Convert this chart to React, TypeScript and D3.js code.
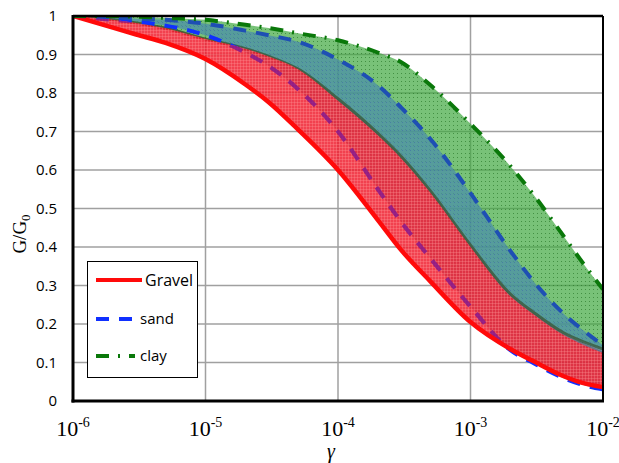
import { useEffect, useRef } from "react";
import * as d3 from "d3";

const strain = [1e-6, 2e-6, 3e-6, 5e-6, 1e-5, 2e-5, 3e-5, 5e-5, 1e-4, 2e-4, 3e-4, 5e-4, 1e-3, 2e-3, 3e-3, 5e-3, 7e-3, 1e-2];

// G/G0 bounds for each soil type
const gravelUpper = [1.0, 0.99, 0.982, 0.968, 0.94, 0.915, 0.895, 0.862, 0.78, 0.69, 0.63, 0.54, 0.4, 0.272, 0.225, 0.172, 0.147, 0.125];
const gravelLower = [1.0, 0.97, 0.952, 0.93, 0.888, 0.822, 0.776, 0.705, 0.6, 0.47, 0.392, 0.31, 0.205, 0.135, 0.103, 0.065, 0.047, 0.036];
const sandUpper = [1.0, 0.997, 0.993, 0.99, 0.98, 0.962, 0.95, 0.933, 0.887, 0.82, 0.762, 0.68, 0.54, 0.39, 0.31, 0.228, 0.185, 0.145];
const sandLower = [1.0, 0.99, 0.985, 0.975, 0.95, 0.905, 0.87, 0.81, 0.7, 0.55, 0.465, 0.37, 0.245, 0.132, 0.098, 0.06, 0.042, 0.03];
const clayUpper = [1.0, 1.0, 0.998, 0.995, 0.99, 0.977, 0.969, 0.955, 0.937, 0.905, 0.88, 0.82, 0.72, 0.61, 0.535, 0.43, 0.36, 0.29];
const clayLower = [1.0, 0.99, 0.982, 0.968, 0.94, 0.915, 0.895, 0.862, 0.785, 0.695, 0.635, 0.545, 0.405, 0.278, 0.23, 0.178, 0.155, 0.135];

// Axis ticks
const xTicks = [1e-6, 1e-5, 1e-4, 1e-3, 1e-2];
const xTickExponents = ["-6", "-5", "-4", "-3", "-2"];
const yTicks = [0, 0.1, 0.2, 0.3, 0.4, 0.5, 0.6, 0.7, 0.8, 0.9, 1];
const yTickLabels = ["0", "0.1", "0.2", "0.3", "0.4", "0.5", "0.6", "0.7", "0.8", "0.9", "1"];

// Legend entries
const legendNames = ["Gravel", "sand", "clay"];

const width = 619;
const height = 463;
const margin = { top: 16, right: 16, bottom: 62, left: 73 };

const sans = "'Open Sans', 'Liberation Sans', sans-serif";
const serif = "'Liberation Serif', 'Times New Roman', serif";

const dashSand = "13,10";
const dashClay = "13,9,2,9";

const drawChart = (node: SVGSVGElement) => {
    const svg = d3.select(node);
    svg.selectAll("*").remove();

    const x = d3.scaleLog().domain([1e-6, 1e-2]).range([margin.left, width - margin.right]);
    const y = d3.scaleLinear().domain([0, 1]).range([height - margin.bottom, margin.top]);

    const idx = strain.map((_, i) => i);

    const line = (vals: number[]) =>
        d3.line<number>()
            .x(i => x(strain[i]))
            .y(i => y(vals[i]))
            .curve(d3.curveMonotoneX)(idx);

    const band = (lo: number[], hi: number[]) =>
        d3.area<number>()
            .x(i => x(strain[i]))
            .y0(i => y(lo[i]))
            .y1(i => y(hi[i]))
            .curve(d3.curveMonotoneX)(idx);

    // patterns for the shaded bands
    const defs = svg.append("defs");

    const green = defs.append("pattern").attr("id", "fill-clay")
        .attr("width", 4).attr("height", 4).attr("patternUnits", "userSpaceOnUse");
    green.append("rect").attr("width", 4).attr("height", 4).attr("fill", "#3fa83f").attr("fill-opacity", 0.7);
    green.append("rect").attr("x", 1).attr("y", 1).attr("width", 1).attr("height", 1).attr("fill", "#1f6f1f").attr("fill-opacity", 0.6);

    const blue = defs.append("pattern").attr("id", "fill-sand")
        .attr("width", 4).attr("height", 4).attr("patternUnits", "userSpaceOnUse");
    blue.append("rect").attr("width", 4).attr("height", 4).attr("fill", "#4a8fa8").attr("fill-opacity", 0.75);
    blue.append("rect").attr("x", 2).attr("y", 2).attr("width", 1).attr("height", 1).attr("fill", "#3a64a8").attr("fill-opacity", 0.5);

    const red = defs.append("pattern").attr("id", "fill-gravel")
        .attr("width", 3).attr("height", 3).attr("patternUnits", "userSpaceOnUse");
    red.append("rect").attr("width", 3).attr("height", 3).attr("fill", "#f02030").attr("fill-opacity", 0.85);
    red.append("rect").attr("width", 3).attr("height", 1).attr("fill", "#ff9a9a").attr("fill-opacity", 0.3);
    red.append("rect").attr("width", 1).attr("height", 3).attr("fill", "#ff9a9a").attr("fill-opacity", 0.3);

    defs.append("clipPath").attr("id", "plot-clip")
        .append("rect")
        .attr("x", margin.left).attr("y", margin.top)
        .attr("width", width - margin.left - margin.right)
        .attr("height", height - margin.bottom - margin.top);

    // clip to the gravel band, for the sand lower line seen through it
    defs.append("clipPath").attr("id", "gravel-clip")
        .append("path").attr("d", band(gravelLower, gravelUpper));

    // grid
    const grid = svg.append("g").attr("stroke", "#a0a0a0").attr("stroke-width", 1.5);
    grid.selectAll("line.h").data(yTicks).join("line")
        .attr("x1", margin.left).attr("x2", width - margin.right)
        .attr("y1", d => y(d)).attr("y2", d => y(d));
    grid.selectAll("line.v").data(xTicks).join("line")
        .attr("x1", d => x(d)).attr("x2", d => x(d))
        .attr("y1", margin.top).attr("y2", height - margin.bottom);

    const plot = svg.append("g").attr("clip-path", "url(#plot-clip)").attr("fill", "none");

    // gravel upper line sits under the fills
    plot.append("path").attr("d", line(gravelUpper)).attr("stroke", "#e02020").attr("stroke-width", 3);

    // bands
    plot.append("path").attr("d", band(clayLower, clayUpper)).attr("fill", "url(#fill-clay)");
    plot.append("path").attr("d", band(sandLower, sandUpper)).attr("fill", "url(#fill-sand)");

    // lower lines that get covered by the gravel band
    plot.append("path").attr("d", line(clayLower)).attr("stroke", "#3a5a3a")
        .attr("stroke-width", 3).attr("stroke-opacity", 0.8);
    plot.append("path").attr("d", line(sandLower)).attr("stroke", "#1030ff")
        .attr("stroke-width", 4).attr("stroke-dasharray", dashSand);

    plot.append("path").attr("d", band(gravelLower, gravelUpper)).attr("fill", "url(#fill-gravel)");

    // sand lower dashes show purple through the red band
    plot.append("g").attr("clip-path", "url(#gravel-clip)")
        .append("path").attr("d", line(sandLower)).attr("stroke", "#8a1c8c")
        .attr("stroke-width", 4).attr("stroke-dasharray", dashSand).attr("stroke-opacity", 0.85);

    // top lines
    plot.append("path").attr("d", line(gravelLower)).attr("stroke", "#ff0a0a").attr("stroke-width", 4.5);
    plot.append("path").attr("d", line(sandUpper)).attr("stroke", "#1e4fb4")
        .attr("stroke-width", 4).attr("stroke-dasharray", dashSand);
    plot.append("path").attr("d", line(clayUpper)).attr("stroke", "#0a780a")
        .attr("stroke-width", 4).attr("stroke-dasharray", dashClay);

    // frame
    const frame = svg.append("g").attr("stroke", "#000");
    frame.append("line").attr("x1", margin.left).attr("x2", width - margin.right)
        .attr("y1", margin.top).attr("y2", margin.top).attr("stroke-width", 2.5);
    frame.append("line").attr("x1", width - margin.right).attr("x2", width - margin.right)
        .attr("y1", margin.top).attr("y2", height - margin.bottom).attr("stroke-width", 2);
    frame.append("line").attr("x1", margin.left).attr("x2", margin.left)
        .attr("y1", margin.top - 1).attr("y2", height - margin.bottom + 1.5).attr("stroke-width", 3);
    frame.append("line").attr("x1", margin.left - 1.5).attr("x2", width - margin.right + 1)
        .attr("y1", height - margin.bottom).attr("y2", height - margin.bottom).attr("stroke-width", 3);

    // y tick labels
    svg.append("g")
        .attr("font-family", sans).attr("font-size", 15).attr("text-anchor", "end").attr("fill", "#000")
        .selectAll("text").data(yTicks).join("text")
        .attr("x", 57).attr("y", d => y(d)).attr("dy", "0.35em")
        .text((_, i) => yTickLabels[i]);

    // x tick labels 10^n
    svg.append("g")
        .attr("font-family", serif).attr("font-size", 22).attr("text-anchor", "middle").attr("fill", "#000")
        .selectAll("text").data(xTicks).join("text")
        .attr("x", d => x(d)).attr("y", 436)
        .call(t => t.append("tspan").text("10"))
        .call(t => t.append("tspan").attr("dy", -9).attr("font-size", 14).text((_, i) => xTickExponents[i]));

    // axis titles
    svg.append("text")
        .attr("x", 331).attr("y", 458).attr("text-anchor", "middle")
        .attr("font-family", serif).attr("font-style", "italic").attr("font-size", 20)
        .text("γ");

    const yl = svg.append("text")
        .attr("transform", "translate(26,234) rotate(-90)").attr("text-anchor", "middle")
        .attr("font-family", serif).attr("font-size", 19);
    yl.append("tspan").text("G/G");
    yl.append("tspan").attr("dy", 4).attr("font-size", 13).text("0");

    // legend
    const lg = svg.append("g");
    lg.append("rect").attr("x", 87.5).attr("y", 261.5).attr("width", 110).attr("height", 116)
        .attr("fill", "#fff").attr("stroke", "#000").attr("stroke-width", 1);
    const rows = [
        { y: 280, stroke: "#ff0a0a", dash: null as string | null, tx: 145, size: 16 },
        { y: 319, stroke: "#1030ff", dash: dashSand, tx: 140, size: 15 },
        { y: 356, stroke: "#0a780a", dash: dashClay, tx: 140, size: 15 },
    ];
    rows.forEach((r, i) => {
        lg.append("line").attr("x1", 96).attr("x2", i === 0 ? 142 : 135)
            .attr("y1", r.y).attr("y2", r.y)
            .attr("stroke", r.stroke).attr("stroke-width", 4)
            .attr("stroke-dasharray", r.dash);
        lg.append("text").attr("x", r.tx).attr("y", r.y).attr("dy", "0.35em")
            .attr("font-family", sans).attr("font-size", r.size)
            .text(legendNames[i]);
    });
};

export default function App() {
    const ref = useRef<SVGSVGElement>(null);

    useEffect(() => {
        if (ref.current) drawChart(ref.current);
    }, []);

    return (
        <svg ref={ref} width={width} height={height}
            style={{ position: "absolute", left: 0, top: 0, background: "#fff" }} />
    );
}
